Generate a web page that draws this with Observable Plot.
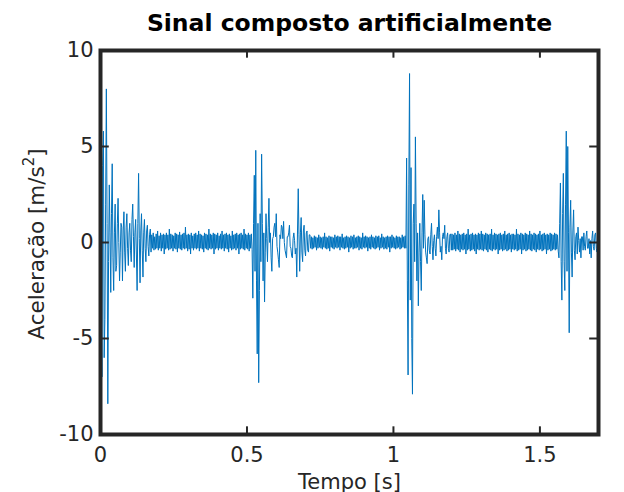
<!DOCTYPE html>
<html><head><meta charset="utf-8">
<script src="https://cdn.jsdelivr.net/npm/d3@7"></script>
<script src="https://cdn.jsdelivr.net/npm/@observablehq/plot@0.6"></script>
<style>body{margin:0;background:#fff;}</style>
</head><body><div id="chart"></div>
<script>
// Acceleration samples (m/s²), segment by segment, one every 0.0025 s.
const step = 0.0025;

const burst1Start = 0;
const burst1 = [5.5,-3.0,-7.0,4.0,5.8,-6.0,-4.0,2.0,8.0,1.0,-8.4,-1.0,3.0,0.5,-2.6,1.5,4.1,-0.8,-2.5,0.5,
  2.0,-1.5,-1.2,1.0,2.3,0.0,-2.0,-0.5,1.0,0.8,-2.0,0.6,1.6,-0.5,-1.5,0.8,1.5,-0.3,-1.2,0.5,
  1.0,-0.4,-1.0,1.2,2.0,0.3,-1.3,0.5,1.2,-0.6,-2.5,1.0,3.6,0.2,-2.1,0.6,1.5,-0.4,-1.8,0.5,
  1.2,-0.3,-1.0,0.6,0.9,-0.2,-0.7,0.4,0.7,-0.5];

const noise1Start = 0.175;
const noise1 = [0.4,-0.3,0.5,-0.4,0.3,-0.35,0.45,-0.3,0.6,-0.4,
  0.35,-0.3,0.5,-0.45,0.4,-0.3,0.45,-0.6,0.4,-0.35,
  0.5,-0.3,0.4,-0.4,0.7,-0.35,0.45,-0.3,0.4,-0.45,
  0.35,-0.3,0.5,-0.35,0.45,-0.5,0.4,-0.3,0.55,-0.35,
  0.4,-0.4,0.45,-0.3,0.5,-0.35,0.8,-0.3,0.4,-0.45,
  0.45,-0.35,0.4,-0.6,0.5,-0.3,0.35,-0.4,0.45,-0.3,
  0.5,-0.35,0.4,-0.3,0.6,-0.45,0.45,-0.3,0.4,-0.35,
  0.35,-0.5,0.5,-0.3,0.45,-0.35,0.4,-0.4,0.7,-0.3,
  0.45,-0.35,0.4,-0.3,0.5,-0.6,0.45,-0.35,0.4,-0.3,
  0.5,-0.4,0.35,-0.3,0.45,-0.35,0.6,-0.3,0.4,-0.45,
  0.45,-0.3,0.5,-0.35,0.4,-0.5,0.45,-0.3,0.35,-0.4,
  0.6,-0.35,0.4,-0.3,0.45,-0.4,0.5,-0.3,0.4,-0.6,
  0.45,-0.35,0.5,-0.3,0.4,-0.35,0.7,-0.4,0.45,-0.3,
  0.4,-0.35,0.5,-0.45,0.4,-0.3,0.45,-0.35];

const burst2Start = 0.52;
const burst2 = [-2.9,1.0,3.5,-1.5,4.8,-2.0,-5.8,1.0,-7.3,-2.5,1.5,-1.0,4.6,1.0,-2.0,0.5,-3.1,-0.5,1.5,0.2,
  -1.0,0.8,2.3,0.0,0.5,-0.8,-1.5,0.2,0.3,0.8,1.0,0.3,1.5,-0.2,-0.5,-0.9,-1.3,0.4,0.2,0.9,
  0.8,0.2,1.1,0.0,-0.4,-0.6,-0.8,0.3,0.3,0.5,0.9,-0.2,-0.3,-0.7,-0.8,0.2,0.5,0.1,-0.6,-0.3,
  -1.8,0.6,2.8,0.4,-1.5,0.5,1.3,-0.5,-1.0,0.6,0.9,-0.4,-0.7,0.5,0.6,-0.4,-0.5,0.4,0.4,-0.3];

const noise2Start = 0.72;
const noise2 = [0.3,-0.35,0.25,-0.3,0.35,-0.25,0.3,-0.4,0.25,-0.3,
  0.4,-0.25,0.3,-0.3,0.25,-0.35,0.3,-0.25,0.5,-0.3,
  0.3,-0.35,0.25,-0.3,0.35,-0.45,0.3,-0.25,0.3,-0.3,
  0.25,-0.35,0.4,-0.25,0.3,-0.3,0.35,-0.25,0.3,-0.4,
  0.3,-0.25,0.45,-0.3,0.25,-0.35,0.3,-0.3,0.35,-0.25,
  0.3,-0.5,0.25,-0.3,0.35,-0.25,0.3,-0.35,0.4,-0.3,
  0.25,-0.3,0.3,-0.25,0.35,-0.4,0.3,-0.3,0.25,-0.35,
  0.5,-0.25,0.3,-0.3,0.35,-0.25,0.3,-0.45,0.25,-0.3,
  0.3,-0.35,0.4,-0.25,0.3,-0.3,0.25,-0.35,0.35,-0.3,
  0.3,-0.25,0.35,-0.4,0.25,-0.3,0.45,-0.25,0.3,-0.35,
  0.25,-0.3,0.3,-0.35,0.35,-0.25,0.3,-0.5,0.3,-0.3,
  0.4,-0.25,0.3,-0.3,0.25,-0.35,0.35,-0.3,0.3,-0.25,
  0.3,-0.35,0.25,-0.3,0.4,-0.25,0.3,-0.3,0.35,-0.3];

const burst3Start = 1.045;
const burst3 = [4.4,-2.0,-6.9,3.0,8.8,-3.0,3.9,-5.0,-7.9,1.0,2.0,-1.0,5.5,1.0,-2.0,0.5,-3.3,-0.5,1.0,-1.0,
  -2.5,0.5,2.5,-0.3,2.2,0.4,-0.5,-0.8,-1.1,0.2,0.3,-0.4,-0.6,0.4,1.0,-0.2,-0.9,0.1,0.4,-0.3,
  -0.7,0.3,0.8,0.2,1.7,0.5,-0.5,-0.2,-0.9,0.3,0.5,0.2,0.9,-0.3,-0.6,0.3,0.5,-0.3,-0.5,0.4,
  0.45,-0.4];

const noise3Start = 1.2;
const noise3 = [0.45,-0.4,0.4,-0.35,0.5,-0.45,0.4,-0.35,0.6,-0.4,
  0.45,-0.5,0.4,-0.35,0.45,-0.4,0.5,-0.35,0.4,-0.6,
  0.45,-0.4,0.7,-0.35,0.4,-0.45,0.45,-0.4,0.5,-0.35,
  0.4,-0.45,0.45,-0.6,0.4,-0.35,0.5,-0.4,0.45,-0.35,
  0.6,-0.4,0.45,-0.45,0.4,-0.35,0.5,-0.4,0.45,-0.5,
  0.4,-0.35,0.45,-0.4,0.7,-0.45,0.4,-0.35,0.5,-0.4,
  0.45,-0.35,0.4,-0.6,0.45,-0.4,0.5,-0.35,0.4,-0.45,
  0.45,-0.4,0.6,-0.35,0.4,-0.45,0.45,-0.4,0.5,-0.35,
  0.4,-0.5,0.45,-0.35,0.45,-0.4,0.4,-0.35,0.7,-0.45,
  0.45,-0.4,0.4,-0.35,0.5,-0.6,0.45,-0.4,0.4,-0.35,
  0.5,-0.45,0.45,-0.4,0.4,-0.35,0.6,-0.4,0.45,-0.45,
  0.4,-0.35,0.5,-0.4,0.45,-0.5,0.4,-0.35,0.45,-0.4,
  0.6,-0.35,0.4,-0.45,0.45,-0.4,0.5,-0.35,0.4,-0.6,
  0.45,-0.4,0.4,-0.35,0.5,-0.45,0.45,-0.4,0.4,-0.35,
  0.5,-0.4,0.45,-0.35,0.4,-0.45];

const burst4Start = 1.565;
const burst4 = [-0.8,1.0,3.1,-1.0,-3.0,1.5,3.6,-1.0,-2.5,2.0,5.8,-1.5,5.0,0.5,-4.7,0.8,2.2,-0.5,-1.8,0.6,
  1.7,-0.4,-0.9,0.3,0.5,-0.6,0.8,0.1,-0.5,0.2,-0.8,0.3,0.3,-0.4,0.5,-0.2,-0.4,0.3,0.6,-0.3,
  -0.3,0.2,-0.6,0.1,-0.8,0.2,0.6,-0.2,-0.4,0.4,0.5,-0.3,-0.5,0.2,0.3];

const xTicks = [0, 0.5, 1, 1.5];
const yTicks = [-10, -5, 0, 5, 10];
const titleText = "Sinal composto artificialmente";
const xLabel = "Tempo [s]";
const yLabelMain = "Aceleração [m/s";
const yLabelSup = "2";
const yLabelEnd = "]";

const segments = [
  {start: burst1Start, values: burst1},
  {start: noise1Start, values: noise1},
  {start: burst2Start, values: burst2},
  {start: noise2Start, values: noise2},
  {start: burst3Start, values: burst3},
  {start: noise3Start, values: noise3},
  {start: burst4Start, values: burst4}
];
const data = segments.flatMap(s => s.values.map((v, k) => ({t: s.start + k * step, a: v})));

const ink = "#262626";
const chart = Plot.plot({
  width: 624, height: 492,
  marginLeft: 100, marginRight: 26, marginTop: 50, marginBottom: 58,
  style: {fontFamily: "DejaVu Sans", background: "#fff", color: ink},
  x: {domain: [0, 1.7]},
  y: {domain: [-10, 10]},
  marks: [
    Plot.line(data, {x: "t", y: "a", stroke: "#0072BD", strokeWidth: 1}),
    Plot.ruleX(xTicks, {x: d => d, y1: -10, y2: -9.6, stroke: ink, strokeWidth: 2}),
    Plot.ruleX(xTicks, {x: d => d, y1: 10, y2: 9.6, stroke: ink, strokeWidth: 2}),
    Plot.ruleY(yTicks, {y: d => d, x1: 0, x2: 0.03, stroke: ink, strokeWidth: 2}),
    Plot.ruleY(yTicks, {y: d => d, x1: 1.7, x2: 1.67, stroke: ink, strokeWidth: 2}),
    Plot.frame({stroke: ink, strokeWidth: 4}),
    Plot.axisX(xTicks, {tickSize: 0, tickPadding: 13, fontSize: 21, tickFormat: d => String(d), label: null}),
    Plot.axisY(yTicks, {tickSize: 0, tickPadding: 7, fontSize: 21, tickFormat: d => String(d), label: null}),
    Plot.text([xLabel], {text: d => d, frameAnchor: "bottom", dy: 54, fontSize: 21}),
    Plot.text([titleText], {text: d => d, frameAnchor: "top", dy: -36, fontSize: 23.5, fontWeight: "bold", fill: "#000"})
  ]
});
document.getElementById("chart").appendChild(chart);

const svg = d3.select(chart);
const yl = svg.append("text")
  .attr("transform", "translate(38,244) rotate(-90)")
  .attr("text-anchor", "middle")
  .attr("dominant-baseline", "middle")
  .attr("font-family", "DejaVu Sans")
  .attr("font-size", 21.5)
  .attr("fill", ink);
yl.append("tspan").text(yLabelMain);
yl.append("tspan").attr("font-size", 15).attr("dy", -9).text(yLabelSup);
yl.append("tspan").attr("dy", 9).text(yLabelEnd);
</script></body></html>
